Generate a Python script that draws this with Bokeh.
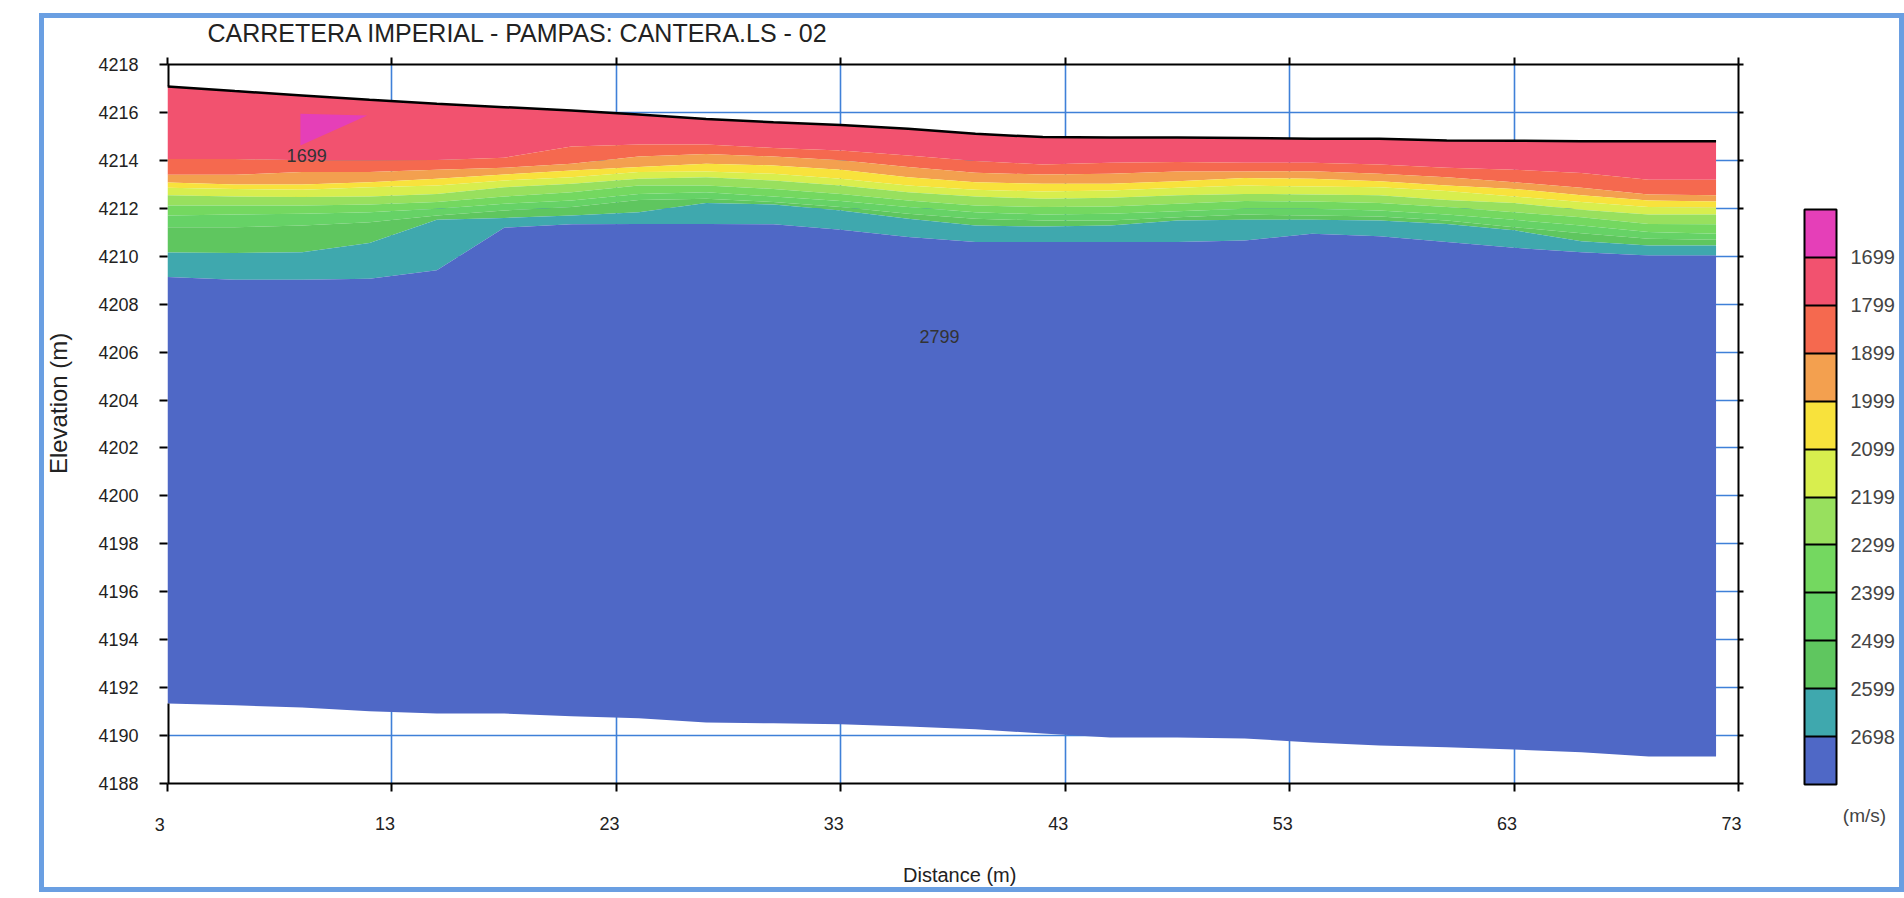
from bokeh.plotting import figure
from bokeh.embed import file_html
from bokeh.resources import INLINE
from bokeh.models import Range1d, LinearAxis, FixedTicker, ColorBar, LinearColorMapper, Label, CustomLabelingPolicy
from bokeh.core.properties import value

title_text = "CARRETERA IMPERIAL - PAMPAS: CANTERA.LS - 02"
distance = [3, 6, 9, 12, 15, 18, 21, 24, 27, 30, 33, 36, 39, 42, 45, 48, 51, 54, 57, 60, 63, 66, 69, 72]
surface = [4217.08, 4216.89, 4216.71, 4216.53, 4216.36, 4216.22, 4216.08, 4215.91, 4215.73, 4215.59, 4215.48, 4215.32,
           4215.11, 4214.97, 4214.95, 4214.95, 4214.93, 4214.90, 4214.90, 4214.83, 4214.82, 4214.80, 4214.80, 4214.80]
b1 = [4214.06, 4214.06, 4214.00, 4214.00, 4214.02, 4214.11, 4214.58, 4214.66, 4214.66, 4214.52, 4214.41, 4214.20,
      4213.97, 4213.83, 4213.90, 4213.93, 4213.90, 4213.90, 4213.83, 4213.69, 4213.61, 4213.47, 4213.19, 4213.19]
b2 = [4213.40, 4213.40, 4213.51, 4213.51, 4213.61, 4213.69, 4213.86, 4214.16, 4214.27, 4214.16, 4214.00, 4213.72,
      4213.48, 4213.41, 4213.44, 4213.54, 4213.54, 4213.55, 4213.44, 4213.30, 4213.09, 4212.86, 4212.58, 4212.54]
b3 = [4213.08, 4212.99, 4212.99, 4213.09, 4213.23, 4213.41, 4213.58, 4213.72, 4213.86, 4213.79, 4213.61, 4213.30,
      4213.09, 4213.02, 4213.02, 4213.13, 4213.26, 4213.23, 4213.13, 4212.95, 4212.81, 4212.54, 4212.33, 4212.28]
b4 = [4212.86, 4212.81, 4212.77, 4212.88, 4212.95, 4213.16, 4213.30, 4213.51, 4213.54, 4213.44, 4213.23, 4212.95,
      4212.77, 4212.70, 4212.74, 4212.86, 4212.95, 4212.91, 4212.88, 4212.72, 4212.49, 4212.26, 4212.05, 4212.02]
b5 = [4212.54, 4212.49, 4212.47, 4212.49, 4212.60, 4212.88, 4213.02, 4213.23, 4213.30, 4213.16, 4212.95, 4212.67,
      4212.49, 4212.40, 4212.44, 4212.54, 4212.60, 4212.58, 4212.54, 4212.35, 4212.22, 4211.94, 4211.74, 4211.74]
b6 = [4212.12, 4212.12, 4212.12, 4212.16, 4212.26, 4212.49, 4212.67, 4212.95, 4212.95, 4212.81, 4212.60, 4212.33,
      4212.12, 4212.05, 4212.08, 4212.19, 4212.30, 4212.28, 4212.22, 4212.05, 4211.84, 4211.63, 4211.35, 4211.33]
b7 = [4211.70, 4211.74, 4211.77, 4211.84, 4211.98, 4212.19, 4212.33, 4212.60, 4212.67, 4212.49, 4212.30, 4212.05,
      4211.84, 4211.74, 4211.77, 4211.88, 4211.98, 4211.98, 4211.91, 4211.74, 4211.52, 4211.28, 4211.01, 4210.94]
b8 = [4211.21, 4211.21, 4211.28, 4211.42, 4211.70, 4211.91, 4212.05, 4212.35, 4212.40, 4212.26, 4212.05, 4211.77,
      4211.56, 4211.49, 4211.49, 4211.63, 4211.74, 4211.70, 4211.66, 4211.49, 4211.21, 4210.96, 4210.73, 4210.69]
b9 = [4210.16, 4210.13, 4210.17, 4210.55, 4211.52, 4211.60, 4211.70, 4211.84, 4212.22, 4212.16, 4211.91, 4211.56,
      4211.28, 4211.24, 4211.28, 4211.49, 4211.52, 4211.52, 4211.49, 4211.35, 4211.08, 4210.63, 4210.45, 4210.45]
b10 = [4209.13, 4209.02, 4209.02, 4209.06, 4209.41, 4211.19, 4211.33, 4211.35, 4211.35, 4211.33, 4211.10, 4210.80,
       4210.59, 4210.59, 4210.59, 4210.59, 4210.66, 4210.94, 4210.83, 4210.59, 4210.35, 4210.17, 4210.03, 4210.03]
bottom = [4191.34, 4191.26, 4191.17, 4191.01, 4190.92, 4190.92, 4190.81, 4190.72, 4190.55, 4190.51, 4190.47, 4190.38,
          4190.26, 4190.09, 4189.92, 4189.92, 4189.88, 4189.71, 4189.59, 4189.51, 4189.42, 4189.30, 4189.13, 4189.13]
pink_d = [8.92, 11.9, 8.92]
pink_e = [4215.94, 4215.87, 4214.62]
band_colors = ["#f2526f", "#f5694f", "#f3a04f", "#f8e23c", "#d8ee4e", "#98e05e", "#74d860", "#66d266", "#5fc65f",
               "#3fa8ae", "#4f68c6"]
legend_colors_top_down = ["#e53fb8", "#f2526f", "#f5694f", "#f3a04f", "#f8e23c", "#d8ee4e", "#98e05e", "#74d860",
                          "#66d266", "#5fc65f", "#3fa8ae", "#4f68c6"]
legend_labels_top_down = ["1699", "1799", "1899", "1999", "2099", "2199", "2299", "2399", "2499", "2599", "2698"]
x_ticks = [3, 13, 23, 33, 43, 53, 63, 73]
y_ticks = [4188, 4190, 4192, 4194, 4196, 4198, 4200, 4202, 4204, 4206, 4208, 4210, 4212, 4214, 4216, 4218]

FONT = "Liberation Sans"
TXT = "#222222"
BLUE = "#3f80d8"
FRAME = "#6a9fe2"

p = figure(width=1855, height=869, x_range=Range1d(3, 73), y_range=Range1d(4188, 4218),
           output_backend="svg", toolbar_location=None, x_axis_location=None, y_axis_location=None,
           min_border_left=123, min_border_right=161, min_border_top=46, min_border_bottom=104,
           background_fill_color="white", border_fill_color="white", outline_line_color=None,
           margin=(18, 0, 0, 44), title=None)
p.styles = {"outline": "5px solid " + FRAME}
p.extra_x_ranges["labels"] = Range1d(3.31, 73.31)

no_labels = "return []"

# axes
left = LinearAxis(ticker=FixedTicker(ticks=y_ticks), major_tick_out=8, major_tick_in=0, minor_tick_line_color=None,
                  major_tick_line_width=2, axis_line_color=None,
                  major_label_standoff=21, major_label_text_font=FONT, major_label_text_font_size="18px",
                  major_label_text_color=TXT)
p.add_layout(left, "left")
below = LinearAxis(ticker=FixedTicker(ticks=x_ticks), major_tick_out=8, major_tick_in=0, minor_tick_line_color=None,
                   major_tick_line_width=2, axis_line_width=2, major_label_standoff=0,
                   major_label_policy=CustomLabelingPolicy(code=no_labels))
p.add_layout(below, "below")
below_labels = LinearAxis(x_range_name="labels", ticker=FixedTicker(ticks=x_ticks),
                          axis_line_color=None, major_tick_line_color=None, minor_tick_line_color=None,
                          major_tick_out=0, major_tick_in=0, major_label_standoff=14,
                          major_label_text_font=FONT, major_label_text_font_size="18px", major_label_text_color=TXT)
p.add_layout(below_labels, "below")
above = LinearAxis(ticker=FixedTicker(ticks=x_ticks), major_tick_out=7, major_tick_in=0, minor_tick_line_color=None,
                   major_tick_line_width=2, axis_line_width=2, major_label_standoff=0,
                   major_label_policy=CustomLabelingPolicy(code=no_labels))
p.add_layout(above, "above")
right = LinearAxis(ticker=FixedTicker(ticks=y_ticks), major_tick_out=5, major_tick_in=0, minor_tick_line_color=None,
                   major_tick_line_width=2, axis_line_width=2, major_label_standoff=0,
                   major_label_policy=CustomLabelingPolicy(code=no_labels))
p.add_layout(right, "right")

p.xgrid.ticker = FixedTicker(ticks=x_ticks[1:-1])
p.ygrid.ticker = FixedTicker(ticks=y_ticks[1:-1])
for g in (p.xgrid[0], p.ygrid[0]):
    g.grid_line_color = BLUE
    g.grid_line_width = 1.6

# bands
edges = [surface, b1, b2, b3, b4, b5, b6, b7, b8, b9, b10, bottom]
for i, c in enumerate(band_colors):
    p.varea(x=distance, y1=edges[i], y2=edges[i + 1], fill_color=c)
p.patch(pink_d, pink_e, fill_color=legend_colors_top_down[0], line_color=None)
p.line(distance, surface, line_color="black", line_width=2.5)
# left axis line shows only where the section does not cover it
p.segment(x0=[x_ticks[0]] * 2, y0=[y_ticks[-1], bottom[0]], x1=[x_ticks[0]] * 2, y1=[surface[0], y_ticks[0]],
          line_color="black", line_width=4)

# contour value labels
p.text([9.2, 37.4], [4214.2, 4206.65], text=["1699", "2799"], text_font=value(FONT), text_font_size="18px",
       text_color="#333333", text_align="center", text_baseline="middle")

# velocity legend
n = len(legend_colors_top_down)
mapper = LinearColorMapper(palette=legend_colors_top_down[::-1], low=0, high=n)
cb = ColorBar(color_mapper=mapper, ticker=FixedTicker(ticks=list(range(1, n))),
              major_label_overrides={i + 1: t for i, t in enumerate(legend_labels_top_down[::-1])},
              location=(1637, -1), width=32, height=575, padding=0, margin=0,
              major_tick_in=32, major_tick_out=0, major_tick_line_color="black", major_tick_line_width=2,
              minor_tick_line_color=None, bar_line_color="black", bar_line_width=2, border_line_color=None,
              background_fill_color=None, label_standoff=14, major_label_text_font=FONT,
              major_label_text_font_size="20px", major_label_text_color="#444444")
p.add_layout(cb)

# side texts
p.add_layout(Label(x=40, y=13.5, x_units="screen", y_units="screen", text=title_text, text_font=FONT,
                   text_font_size="25px", text_color=TXT, text_baseline="middle"), "above")
p.add_layout(Label(x=x_ticks[0] - 0.34, y=21, x_units="data", y_units="screen", text=str(x_ticks[0]), text_font=FONT,
                   text_font_size="18px", text_color=TXT, text_align="center", text_baseline="middle"), "below")
p.add_layout(Label(x=38.3, y=-7, x_units="data", y_units="screen", text="Distance (m)", text_font=FONT,
                   text_font_size="20px", text_color=TXT, text_align="center", text_baseline="middle"), "below")
p.add_layout(Label(x=-10, y=4203.86, x_units="screen", y_units="data", text="Elevation (m)", angle=90,
                   angle_units="deg", text_font=FONT, text_font_size="24px", text_color=TXT,
                   text_align="center", text_baseline="middle"), "left")
p.add_layout(Label(x=94, y=-32, x_units="screen", y_units="screen", text="(m/s)", text_font=FONT,
                   text_font_size="19px", text_color="#444444", text_align="center", text_baseline="middle"), "right")

open("out.html", "w").write(file_html(p, INLINE))
